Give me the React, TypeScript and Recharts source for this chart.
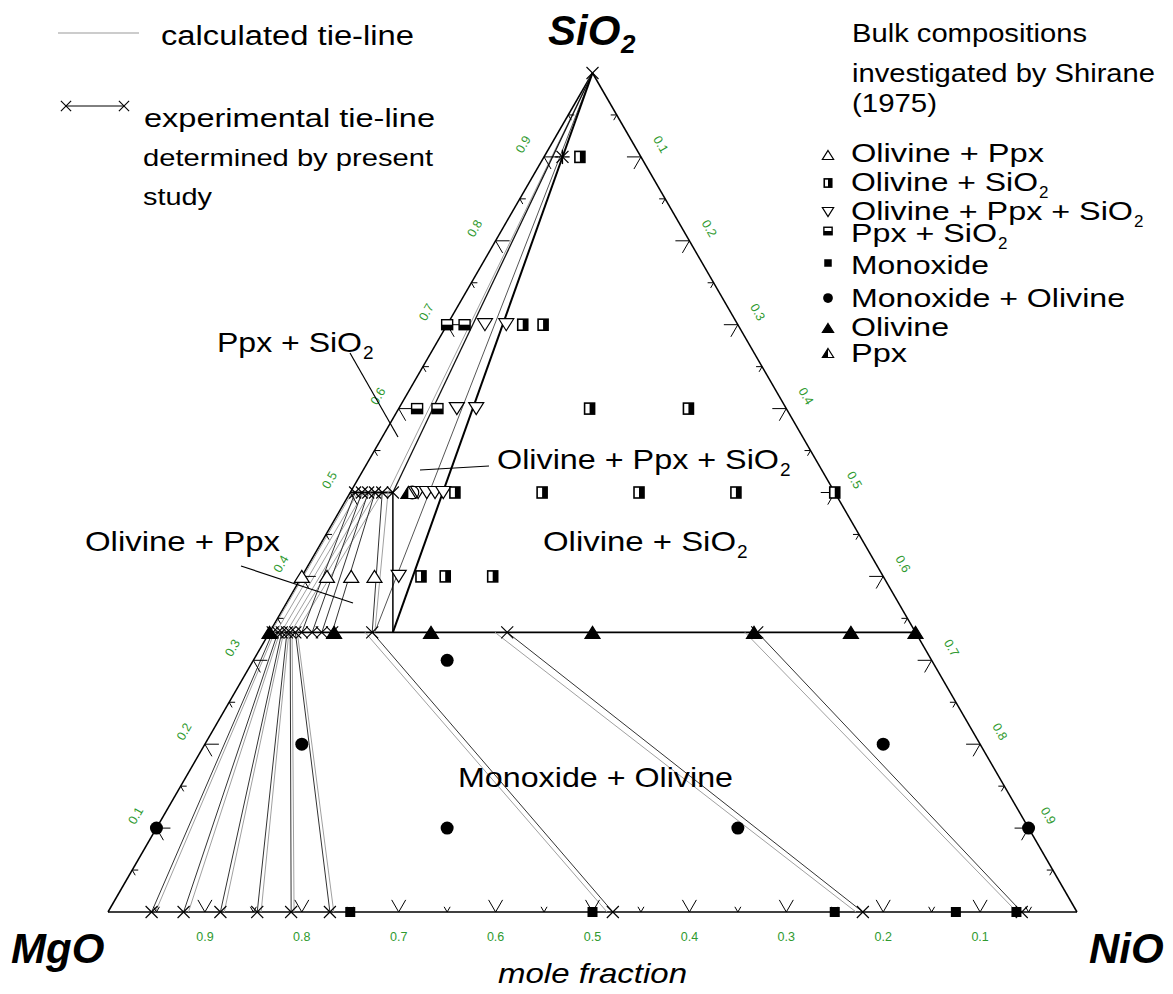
import React from "react";
import { ReferenceLine, Scatter, ScatterChart, XAxis, YAxis } from "recharts";

const W = 1173;
const H = 994;
const FONT = "'Liberation Sans', Arial, sans-serif";
const GREEN = "#2f9a2f";
const EXP = "#333333";
const CAL = "#a0a0a0";

// ---- Shirane (1975) bulk compositions, [NiO, SiO2] mole fractions ----
const bulkOlPpx = [[0, 0.4], [0.026, 0.4], [0.051, 0.4], [0.075, 0.4]];
const bulkOlSiO2 = [
  [0.123, 0.4], [0.148, 0.4], [0.197, 0.4],
  [0.108, 0.5], [0.198, 0.5], [0.298, 0.5], [0.398, 0.5], [0.5, 0.5],
  [0.197, 0.6], [0.299, 0.6],
  [0.078, 0.7], [0.099, 0.7],
  [0.037, 0.9],
];
const bulkOlPpxSiO2 = [
  [0.1, 0.4], [0.07, 0.5], [0.079, 0.5], [0.0875, 0.5], [0.096, 0.5],
  [0.06, 0.6], [0.08, 0.6], [0.039, 0.7], [0.061, 0.7],
];
const bulkPpxSiO2 = [[0.019, 0.6], [0.04, 0.6], [0, 0.7], [0.018, 0.7]];
const bulkMonoxide = [[0.25, 0], [0.5, 0], [0.75, 0], [0.875, 0], [0.9375, 0]];
const bulkMonOl = [[0.2, 0.3], [0.1, 0.2], [0.7, 0.2], [0, 0.1], [0.3, 0.1], [0.6, 0.1], [0.9, 0.1]];
const bulkOlivineXNi = [0, 0.1, 0.25, 0.5, 0.75, 0.9, 1];
const bulkPpx = [[0.06, 0.5]];
const openCircle = [[0.064, 0.5]];
const starPoint = [[0.019, 0.9]];

// ---- tie-lines, given as Ni/(Ni+Mg) of each phase ----
// olivine - monoxide
const expOlMo_ol = [0.005, 0.013, 0.019, 0.027, 0.032, 0.04, 0.159, 0.368, 0.755];
const expOlMo_mo = [0.045, 0.078, 0.116, 0.154, 0.189, 0.229, 0.521, 0.779, 0.943];
const calOlMo_ol = [0.008, 0.016, 0.022, 0.03, 0.035, 0.043, 0.148, 0.349, 0.736];
const calOlMo_mo = [0.049, 0.083, 0.12, 0.158, 0.192, 0.233, 0.515, 0.772, 0.938];
// pyroxene - olivine
const expPxOl_px = [0.01, 0.024, 0.037, 0.051, 0.066];
const expPxOl_ol = [0.05, 0.066, 0.081, 0.097, 0.159];
const calPxOl_px = [0.004, 0.016, 0.028, 0.041, 0.053, 0.066];
const calPxOl_ol = [0.002, 0.01, 0.018, 0.026, 0.033, 0.041];
// three-phase triangle Ol + Ppx + SiO2 corners
const expPx3 = 0.088;
const expOl3 = 0.191;
const calPx3 = 0.078;
const calOl3 = 0.163;

// axis ticks / labels
const tickFracs = [0.05, 0.1, 0.15, 0.2, 0.25, 0.3, 0.35, 0.4, 0.45, 0.5, 0.55, 0.6, 0.65, 0.7, 0.75, 0.8, 0.85, 0.9, 0.95];
const labelFracs = [0.1, 0.2, 0.3, 0.4, 0.5, 0.6, 0.7, 0.8, 0.9];

// ternary -> cartesian (x along MgO-NiO base, y = SiO2)
const tern = (ni: number, si: number) => ({ x: ni + si / 2, y: si });
const olP = (a: number) => tern((2 / 3) * a, 1 / 3);
const pxP = (a: number) => tern(a / 2, 0.5);
const moP = (a: number) => tern(a, 0);
const APEX = tern(0, 1);
const pts = (arr: number[][]) => arr.map(([ni, si]) => tern(ni, si));

type P = { x: number; y: number };
const segments: { a: P; b: P; c: string; w: number }[] = [
  { a: tern(0, 0), b: tern(1, 0), c: "#000", w: 1.5 },
  { a: tern(0, 0), b: APEX, c: "#000", w: 1.5 },
  { a: tern(1, 0), b: APEX, c: "#000", w: 1.5 },
  { a: olP(0), b: olP(1), c: "#000", w: 1.6 },
  { a: pxP(0), b: pxP(expPx3), c: "#000", w: 2 },
  ...calOlMo_ol.map((v, i) => ({ a: olP(v), b: moP(calOlMo_mo[i]), c: CAL, w: 1 })),
  ...expOlMo_ol.map((v, i) => ({ a: olP(v), b: moP(expOlMo_mo[i]), c: EXP, w: 1 })),
  ...calPxOl_px.map((v, i) => ({ a: pxP(v), b: olP(calPxOl_ol[i]), c: CAL, w: 1 })),
  ...expPxOl_px.map((v, i) => ({ a: pxP(v), b: olP(expPxOl_ol[i]), c: EXP, w: 1 })),
  { a: APEX, b: pxP(calPx3), c: CAL, w: 1 },
  { a: APEX, b: olP(calOl3), c: "#555", w: 1 },
  { a: pxP(calPx3), b: olP(calOl3), c: CAL, w: 1 },
  { a: APEX, b: pxP(expPx3), c: "#111", w: 1.3 },
  { a: pxP(expPx3), b: olP(expOl3), c: "#000", w: 1.5 },
  { a: APEX, b: olP(expOl3), c: "#000", w: 2 },
];

const crossPts = [
  APEX,
  ...[...expPxOl_px, expPx3].map(pxP),
  ...expOlMo_ol.map(olP),
  ...expPxOl_ol.slice(0, 4).map(olP),
  ...expOlMo_mo.map(moP),
];

const isMajor = (f: number) => Math.round(f * 100) % 10 === 0;
const leftTicks = tickFracs.map((s) => ({ ...tern(0, s), major: isMajor(s) }));
const rightTicks = tickFracs.map((n) => ({ ...tern(n, 1 - n), major: isMajor(n) }));
const bottomTicks = tickFracs.map((n) => ({ ...tern(n, 0), major: isMajor(n) }));
const leftLabels = labelFracs.map((s) => ({ ...tern(0, s), label: String(s) }));
const rightLabels = labelFracs.map((n) => ({ ...tern(n, 1 - n), label: String(n) }));
const bottomLabels = labelFracs.map((m) => ({ ...tern(1 - m, 0), label: String(m) }));

const ARMS: Record<string, number[][]> = {
  left: [[1, 0], [0.5, 0.866]],
  right: [[-1, 0], [-0.5, 0.866]],
  bottom: [[0.5, -0.866], [-0.5, -0.866]],
};

function TickMark({ cx, cy, side, major }: any) {
  const L = major ? 14 : 6;
  return (
    <g stroke="#000" strokeWidth={1}>
      {ARMS[side].map(([dx, dy], i) => (
        <line key={i} x1={cx} y1={cy} x2={cx + dx * L} y2={cy + dy * L} />
      ))}
    </g>
  );
}

const LABEL_POS: Record<string, { dx: number; dy: number; rot: number }> = {
  left: { dx: -20, dy: -12, rot: -60 },
  right: { dx: 19, dy: -12, rot: 60 },
  bottom: { dx: 0, dy: 26, rot: 0 },
};

function TickLabel({ cx, cy, side, label }: any) {
  const o = LABEL_POS[side];
  const x = cx + o.dx;
  const y = cy + o.dy;
  return (
    <text x={x} y={y} fill={GREEN} fontSize={12.5} fontFamily={FONT} textAnchor="middle"
      dominantBaseline="middle" transform={o.rot ? `rotate(${o.rot} ${x} ${y})` : undefined}>
      {label}
    </text>
  );
}

function Marker({ cx, cy, kind, k = 1 }: { cx: number; cy: number; kind: string; k?: number }) {
  const sw = 1.2;
  const w = 7.5 * k;
  const h = 6 * k;
  const up = `${cx},${cy - h} ${cx + w},${cy + h} ${cx - w},${cy + h}`;
  switch (kind) {
    case "triUp":
      return <polygon points={up} fill="#fff" stroke="#000" strokeWidth={sw} />;
    case "triDown":
      return <polygon points={`${cx - w},${cy - h} ${cx + w},${cy - h} ${cx},${cy + h}`} fill="#fff" stroke="#000" strokeWidth={sw} />;
    case "triFill":
      return <polygon points={up} fill="#000" stroke="#000" strokeWidth={sw} />;
    case "triHalf":
      return (
        <g>
          <polygon points={up} fill="#fff" stroke="#000" strokeWidth={sw} />
          <polygon points={`${cx},${cy - h} ${cx},${cy + h} ${cx - w},${cy + h}`} fill="#000" />
        </g>
      );
    case "halfV": {
      const a = 5 * k, b = 5.5 * k;
      return (
        <g>
          <rect x={cx - a} y={cy - b} width={2 * a} height={2 * b} fill="#fff" stroke="#000" strokeWidth={1.6} />
          <rect x={cx} y={cy - b} width={a} height={2 * b} fill="#000" />
        </g>
      );
    }
    case "halfH": {
      const a = 5.5 * k, b = 5 * k;
      return (
        <g>
          <rect x={cx - a} y={cy - b} width={2 * a} height={2 * b} fill="#fff" stroke="#000" strokeWidth={1.4} />
          <rect x={cx - a} y={cy} width={2 * a} height={b} fill="#000" />
        </g>
      );
    }
    case "square": {
      const a = 5 * k;
      return <rect x={cx - a} y={cy - a} width={2 * a} height={2 * a} fill="#000" />;
    }
    case "circle":
      return <circle cx={cx} cy={cy} r={6.5 * k} fill="#000" />;
    case "ring":
      return <circle cx={cx} cy={cy} r={6.5 * k} fill="none" stroke="#000" strokeWidth={1.2} />;
    case "cross": {
      const c = 6 * k;
      return (
        <g stroke="#000" strokeWidth={1.1}>
          <line x1={cx - c} y1={cy - c} x2={cx + c} y2={cy + c} />
          <line x1={cx - c} y1={cy + c} x2={cx + c} y2={cy - c} />
        </g>
      );
    }
    case "star": {
      const c = 6 * k;
      return (
        <g stroke="#000" strokeWidth={1.3}>
          <line x1={cx - c} y1={cy - c} x2={cx + c} y2={cy + c} />
          <line x1={cx - c} y1={cy + c} x2={cx + c} y2={cy - c} />
          <line x1={cx - c * 1.2} y1={cy} x2={cx + c * 1.2} y2={cy} />
          <line x1={cx} y1={cy - c * 1.2} x2={cx} y2={cy + c * 1.2} />
        </g>
      );
    }
    default:
      return null;
  }
}

function Txt({ x, y, size, w, text, sub, subSize, style }: any) {
  return (
    <g fontFamily={FONT} fill="#000">
      <text x={x} y={y} fontSize={size} textLength={w} lengthAdjust="spacingAndGlyphs" style={style}>
        {text}
      </text>
      {sub ? (
        <text x={x + w + 1} y={y + size * 0.25} fontSize={subSize || size * 0.66} style={style}>
          {sub}
        </text>
      ) : null}
    </g>
  );
}

const legendRows = [
  { kind: "triUp", my: 155, y: 162, text: "Olivine + Ppx", w: 193 },
  { kind: "halfV", my: 183, y: 191, text: "Olivine + SiO", w: 187, sub: "2" },
  { kind: "triDown", my: 212, y: 220, text: "Olivine + Ppx + SiO", w: 282, sub: "2" },
  { kind: "halfH", my: 231, y: 242, text: "Ppx + SiO", w: 146, sub: "2" },
  { kind: "square", my: 263, y: 274, text: "Monoxide", w: 138 },
  { kind: "circle", my: 298, y: 307, text: "Monoxide + Olivine", w: 274 },
  { kind: "triFill", my: 328, y: 336, text: "Olivine", w: 98 },
  { kind: "triHalf", my: 353, y: 362, text: "Ppx", w: 56 },
];

const bulkSets = [
  { data: bulkMonOl, kind: "circle" },
  { data: bulkMonoxide, kind: "square" },
  { data: bulkOlivineXNi.map((a) => [(2 / 3) * a, 1 / 3]), kind: "triFill" },
  { data: bulkOlPpx, kind: "triUp" },
  { data: bulkOlPpxSiO2, kind: "triDown" },
  { data: bulkOlSiO2, kind: "halfV" },
  { data: bulkPpxSiO2, kind: "halfH" },
  { data: openCircle, kind: "ring" },
  { data: bulkPpx, kind: "triHalf" },
  { data: starPoint, kind: "star" },
];

export default function App() {
  return (
    <div style={{ position: "absolute", left: 0, top: 0, width: W, height: H, background: "#fff" }}>
      <ScatterChart width={W} height={H} margin={{ top: 73, right: 96, bottom: 82, left: 108 }}>
        <XAxis type="number" dataKey="x" domain={[0, 1]} hide />
        <YAxis type="number" dataKey="y" domain={[0, 1]} hide />
        {segments.map((s, i) => (
          <ReferenceLine key={`s${i}`} segment={[s.a, s.b]} stroke={s.c} strokeWidth={s.w} ifOverflow="visible" />
        ))}
        {(["left", "right", "bottom"] as const).map((side) => (
          <Scatter key={`t-${side}`} data={side === "left" ? leftTicks : side === "right" ? rightTicks : bottomTicks}
            isAnimationActive={false}
            shape={(p: any) => <TickMark cx={p.cx} cy={p.cy} side={side} major={(p.payload ?? p).major} />} />
        ))}
        {(["left", "right", "bottom"] as const).map((side) => (
          <Scatter key={`l-${side}`} data={side === "left" ? leftLabels : side === "right" ? rightLabels : bottomLabels}
            isAnimationActive={false}
            shape={(p: any) => <TickLabel cx={p.cx} cy={p.cy} side={side} label={(p.payload ?? p).label} />} />
        ))}
        <Scatter data={crossPts} isAnimationActive={false}
          shape={(p: any) => <Marker cx={p.cx} cy={p.cy} kind="cross" />} />
        {bulkSets.map((b, i) => (
          <Scatter key={`b${i}`} data={pts(b.data)} isAnimationActive={false}
            shape={(p: any) => <Marker cx={p.cx} cy={p.cy} kind={b.kind} />} />
        ))}
      </ScatterChart>

      <svg width={W} height={H} style={{ position: "absolute", left: 0, top: 0, pointerEvents: "none" }}>
        {/* apex / corner titles */}
        <g fontFamily={FONT} fontWeight="bold" fontStyle="italic" fill="#000">
          <text x={548} y={45} fontSize={42}>SiO</text>
          <text x={621} y={53} fontSize={26}>2</text>
          <text x={11} y={963} fontSize={42}>MgO</text>
          <text x={1089} y={963} fontSize={42}>NiO</text>
        </g>
        <text x={498} y={983} fontSize={28} fontFamily={FONT} fontStyle="italic" textLength={189} lengthAdjust="spacingAndGlyphs">
          mole fraction
        </text>

        {/* top-left legend */}
        <line x1={58} y1={33} x2={139} y2={33} stroke="#999" strokeWidth={1} />
        <Txt x={161} y={45} size={27} w={253} text="calculated tie-line" />
        <line x1={66} y1={106} x2={124} y2={106} stroke="#000" strokeWidth={1} />
        <Marker cx={66} cy={106} kind="cross" k={0.85} />
        <Marker cx={124} cy={106} kind="cross" k={0.85} />
        <Txt x={144} y={127} size={26} w={291} text="experimental tie-line" />
        <Txt x={143} y={166} size={24} w={290} text="determined by present" />
        <Txt x={143} y={205} size={24} w={69} text="study" />

        {/* right legend */}
        <Txt x={852} y={42} size={25} w={235} text="Bulk compositions" />
        <Txt x={852} y={82} size={25} w={303} text="investigated by Shirane" />
        <Txt x={852} y={112} size={25} w={85} text="(1975)" />
        {legendRows.map((r) => (
          <g key={r.text + r.kind}>
            <Marker cx={828} cy={r.my} kind={r.kind} k={0.75} />
            <Txt x={851} y={r.y} size={26} w={r.w} text={r.text} sub={r.sub} subSize={17} />
          </g>
        ))}

        {/* field labels */}
        <Txt x={217} y={352} size={28} w={145} text="Ppx + SiO" sub="2" subSize={19} />
        <line x1={350} y1={353} x2={398} y2={437} stroke="#000" strokeWidth={1.2} />
        <Txt x={497} y={469} size={28} w={282} text="Olivine + Ppx + SiO" sub="2" subSize={19} />
        <line x1={420} y1={470} x2={489} y2={466} stroke="#000" strokeWidth={1.2} />
        <Txt x={543} y={551} size={28} w={193} text="Olivine + SiO" sub="2" subSize={19} />
        <Txt x={85} y={551} size={28} w={195} text="Olivine + Ppx" />
        <line x1={241} y1={566} x2={353} y2={603} stroke="#000" strokeWidth={1.2} />
        <Txt x={458} y={787} size={28} w={275} text="Monoxide + Olivine" />
      </svg>
    </div>
  );
}
